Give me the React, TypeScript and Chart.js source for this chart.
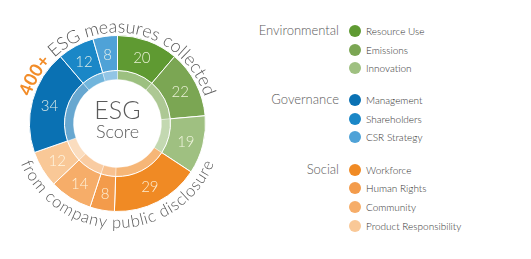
import React, { useEffect, useRef } from "react";
import { Chart, registerables } from "chart.js";

Chart.register(...registerables);

// Chart order (clockwise from 12 o'clock)
const categories = [
  "Resource Use", "Emissions", "Innovation",
  "Workforce", "Human Rights", "Community", "Product Responsibility",
  "Management", "Shareholders", "CSR Strategy",
];
const values = [20, 22, 19, 29, 8, 14, 12, 34, 12, 8];
const segmentColors = [
  "#5f9a32", "#7ba653", "#9fc081",
  "#f08a24", "#f39b4b", "#f6ad69", "#f9c897",
  "#0a71b3", "#1a87c7", "#4fa2d7",
];

// Legend
const groups = ["Environmental", "Governance", "Social"];
const groupItems = [
  ["Resource Use", "Emissions", "Innovation"],
  ["Management", "Shareholders", "CSR Strategy"],
  ["Workforce", "Human Rights", "Community", "Product Responsibility"],
];

const topText = [
  { text: "400+", bold: true },
  { text: " ESG measures collected", bold: false },
];
const bottomText = "from company public disclosure";
const centerTitle = "ESG";
const centerSub = "Score";

const FONT = "Lato, 'Open Sans', sans-serif";
const ORANGE = "#f28c28";
const GRAY = "#5a5a5a";

function lighten(hex: string, amt: number) {
  const n = parseInt(hex.slice(1), 16);
  const r = (n >> 16) & 255, g = (n >> 8) & 255, b = n & 255;
  const m = (c: number) => Math.round(c + (255 - c) * amt);
  return `rgb(${m(r)},${m(g)},${m(b)})`;
}
const bandColors = segmentColors.map((c) => lighten(c, 0.38));

function drawArcText(
  ctx: CanvasRenderingContext2D,
  cx: number, cy: number,
  parts: { text: string; font: string; color: string }[],
  rBase: number, rSpace: number, centerAngle: number, inverted: boolean,
  tracking: number
) {
  let total = 0;
  for (const p of parts) {
    ctx.font = p.font;
    for (const ch of p.text) total += ctx.measureText(ch).width + tracking;
  }
  const span = total / rSpace;
  let theta = inverted ? centerAngle + span / 2 : centerAngle - span / 2;
  ctx.textAlign = "center";
  ctx.textBaseline = "alphabetic";
  for (const p of parts) {
    ctx.font = p.font;
    ctx.fillStyle = p.color;
    for (const ch of p.text) {
      const w = ctx.measureText(ch).width + tracking;
      const a = w / rSpace;
      const tc = inverted ? theta - a / 2 : theta + a / 2;
      ctx.save();
      ctx.translate(cx + rBase * Math.sin(tc), cy - rBase * Math.cos(tc));
      ctx.rotate(inverted ? tc + Math.PI : tc);
      ctx.fillText(ch, 0, 0);
      ctx.restore();
      theta = inverted ? theta - a : theta + a;
    }
  }
}

const decoPlugin = {
  id: "deco",
  afterDatasetsDraw(chart: any) {
    const ctx: CanvasRenderingContext2D = chart.ctx;
    const meta = chart.getDatasetMeta(0);
    ctx.save();
    ctx.textAlign = "center";
    ctx.textBaseline = "middle";
    ctx.font = `300 15px ${FONT}`;
    ctx.fillStyle = "rgba(255,255,240,0.85)";
    meta.data.forEach((arc: any, i: number) => {
      const p = arc.tooltipPosition();
      ctx.fillText(String(values[i]), p.x, p.y + 1);
    });
    const first = meta.data[0];
    const cx = first.x, cy = first.y;
    // center text
    ctx.fillStyle = GRAY;
    ctx.textBaseline = "alphabetic";
    ctx.font = `300 25px ${FONT}`;
    ctx.fillText(centerTitle, cx, cy - 5);
    ctx.font = `300 18px ${FONT}`;
    ctx.fillText(centerSub, cx, cy + 14);
    // curved texts
    drawArcText(
      ctx, cx, cy,
      topText.map((t) => ({
        text: t.text,
        font: t.bold ? `bold 18px ${FONT}` : `300 18px ${FONT}`,
        color: t.bold ? ORANGE : GRAY,
      })),
      91, 98, 0, false, 0.6
    );
    drawArcText(
      ctx, cx, cy,
      [{ text: bottomText, font: `300 16.5px ${FONT}`, color: GRAY }],
      104.5, 99, Math.PI, true, 0.3
    );
    ctx.restore();
  },
};

const legendStart = [31, 100, 169.7];
const rowH = 18.7;

export default function App() {
  const ref = useRef<HTMLCanvasElement>(null);
  useEffect(() => {
    const chart = new Chart(ref.current!, {
      type: "doughnut",
      data: {
        labels: categories,
        datasets: [
          {
            data: values,
            backgroundColor: segmentColors,
            borderColor: "#ffffff",
            borderWidth: 1,
            weight: 35,
          } as any,
          {
            data: values,
            backgroundColor: bandColors,
            borderColor: "rgba(255,255,255,0.6)",
            borderWidth: 0.6,
            weight: 9,
          } as any,
        ],
      },
      options: {
        responsive: false,
        animation: false,
        cutout: "50%",
        layout: { padding: { left: 29, right: 29, top: 35, bottom: 38 } },
        plugins: { legend: { display: false }, tooltip: { enabled: false } },
      } as any,
      plugins: [decoPlugin],
    });
    return () => chart.destroy();
  }, []);

  return (
    <div style={{ position: "absolute", left: 0, top: 0, width: 531, height: 259, background: "#fff", overflow: "hidden" }}>
      <canvas ref={ref} width={235} height={250} style={{ position: "absolute", left: 0, top: 0 }} />
      {groups.map((g, gi) => (
        <React.Fragment key={g}>
          <div
            style={{
              position: "absolute", right: 531 - 339, top: legendStart[gi] - 1 - 9,
              height: 18, lineHeight: "18px", fontFamily: FONT, fontSize: 13, fontWeight: 300,
              color: GRAY, whiteSpace: "nowrap",
            }}
          >
            {g}
          </div>
          {groupItems[gi].map((item, ii) => {
            const cy = legendStart[gi] + ii * rowH;
            const color = segmentColors[categories.indexOf(item)];
            return (
              <React.Fragment key={item}>
                <div
                  style={{
                    position: "absolute", left: 348.5, top: cy - 6, width: 12, height: 12,
                    borderRadius: "50%", background: color,
                  }}
                />
                <div
                  style={{
                    position: "absolute", left: 366, top: cy - 7, height: 14, lineHeight: "14px",
                    fontFamily: FONT, fontSize: 10, fontWeight: 300, color: "#333", whiteSpace: "nowrap",
                  }}
                >
                  {item}
                </div>
              </React.Fragment>
            );
          })}
        </React.Fragment>
      ))}
    </div>
  );
}
